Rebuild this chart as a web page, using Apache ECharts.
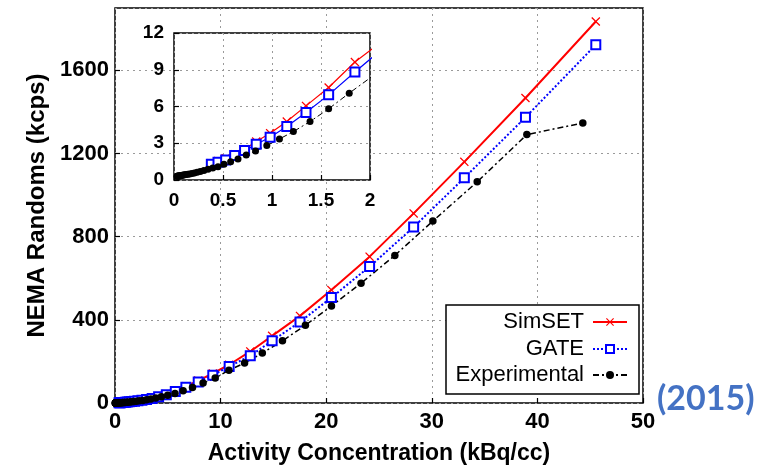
<!DOCTYPE html>
<html>
<head>
<meta charset="utf-8">
<script src="https://cdn.jsdelivr.net/npm/echarts@6/dist/echarts.min.js"></script>
<style>
  html, body { margin: 0; padding: 0; background: #fff; }
  #chart { width: 768px; height: 471px; }
</style>
</head>
<body>
<div id="chart"></div>
<script>
// activity concentration (kBq/cc) of the simulated runs
var simX = [0.381, 0.449, 0.527, 0.619, 0.720, 0.839, 0.981, 1.151, 1.347, 1.578, 1.846,
  2.17, 2.55, 2.99, 3.52, 4.13, 4.86, 5.71, 6.71, 7.88, 9.26,
  10.81, 12.81, 14.88, 17.52, 20.49, 24.11, 28.28, 33.08, 38.87, 45.53];
var simsetY = [1.36, 1.55, 1.77, 2.10, 2.51, 3.14, 3.82, 4.77, 6.05, 7.55, 9.63,
  11.6, 14.2, 18.0, 23.5, 31.5, 43, 59, 81, 108, 142,
  184, 248, 323, 419, 544, 704, 912, 1160, 1467, 1835];
var gateY = [1.28, 1.45, 1.64, 1.99, 2.40, 2.92, 3.49, 4.36, 5.51, 6.95, 8.81,
  11.0, 13.3, 16.9, 22.1, 29.5, 40, 55, 76, 101, 134,
  176, 227, 299, 390, 507, 656, 846, 1083, 1374, 1723];

// measured
var expX = [0.031, 0.035, 0.040, 0.045, 0.051, 0.058, 0.065, 0.074, 0.085, 0.096,
  0.109, 0.124, 0.141, 0.161, 0.183, 0.208, 0.236, 0.268, 0.305, 0.347,
  0.395, 0.449, 0.510, 0.578, 0.653, 0.737, 0.832, 0.947, 1.076, 1.218,
  1.388, 1.578, 1.788, 2.03, 2.31, 2.63, 2.99, 3.40, 3.86, 4.39,
  4.99, 5.68, 6.45, 7.34, 8.34, 9.49, 10.79, 12.27, 13.95, 15.86,
  18.03, 20.50, 23.30, 26.50, 30.10, 34.30, 39.00, 44.30];
var expY = [0.31, 0.31, 0.32, 0.33, 0.33, 0.34, 0.35, 0.37, 0.38, 0.40,
  0.42, 0.44, 0.47, 0.50, 0.54, 0.58, 0.64, 0.70, 0.78, 0.87,
  0.97, 1.09, 1.28, 1.50, 1.72, 2.05, 2.37, 2.81, 3.35, 3.95,
  4.77, 5.81, 7.09, 8.5, 10.3, 12.6, 15.5, 19.2, 23.8, 29.5,
  36.8, 46, 59, 75, 96, 120, 158, 192, 240, 299,
  374, 467, 576, 710, 875, 1064, 1291, 1347];

var seriesNames = ['SimSET', 'GATE', 'Experimental'];
var mainTicksX = { min: 0, max: 50, interval: 10 };
var mainTicksY = { min: 0, max: 1900, interval: 400 };
var insetTicksX = { min: 0, max: 2, interval: 0.5 };
var insetTicksY = { min: 0, max: 12, interval: 3 };

var FONT = '"Liberation Sans", Arial, sans-serif';
var CROSS = 'path://M0,1L1,0L5,4L9,0L10,1L6,5L10,9L9,10L5,6L1,10L0,9L4,5Z';

function pairs(xs, ys) {
  return xs.map(function (x, i) { return [x, ys[i]]; });
}

function plain(v) {
  return String(v);
}

function valueAxis(ticks, idx, extra) {
  return Object.assign({
    type: 'value',
    gridIndex: idx,
    min: ticks.min,
    max: ticks.max,
    interval: ticks.interval,
    axisLine: { show: false },
    axisTick: { show: true, inside: true, length: 5, lineStyle: { color: '#000', width: 1.2 } },
    splitLine: { show: true, lineStyle: { color: '#9a9a9a', width: 1, type: [2, 4] } }
  }, extra);
}

function label(size, margin, showMax) {
  return { color: '#000', fontFamily: FONT, fontWeight: 'bold', fontSize: size,
    margin: margin, showMaxLabel: showMax, formatter: plain };
}

function styles(inset) {
  var w = inset ? 1.2 : 2;
  return [
    { symbol: CROSS, symbolSize: 9,
      lineStyle: { color: '#ff0000', width: w },
      itemStyle: { color: '#ff0000' } },
    { symbol: 'emptyRect', symbolSize: 9,
      lineStyle: { color: '#0000ff', width: w, type: inset ? 'solid' : [2, 2] },
      itemStyle: { color: '#0000ff', borderWidth: 1.5 } },
    { symbol: 'circle', symbolSize: inset ? 7 : 7.5,
      lineStyle: { color: '#000', width: inset ? 1 : 1.5, type: [6, 3, 2, 3] },
      itemStyle: { color: '#000' } }
  ];
}

var datasets = [pairs(simX, simsetY), pairs(simX, gateY), pairs(expX, expY)];

var series = [];
[false, true].forEach(function (inset) {
  var st = styles(inset);
  datasets.forEach(function (d, i) {
    series.push(Object.assign({
      type: 'line',
      name: seriesNames[i],
      xAxisIndex: inset ? 1 : 0,
      yAxisIndex: inset ? 1 : 0,
      data: d,
      showAllSymbol: true,
      clip: true,
      z: inset ? 5 : 2,
      animation: false
    }, st[i]));
  });
});

// gnuplot style key: text right aligned, sample on the right
var legendRows = [323, 350, 376];
var legends = seriesNames.map(function (n, i) {
  return {
    data: [n],
    orient: 'vertical',
    align: 'right',
    right: 140,
    top: legendRows[i] - 12,
    padding: 0,
    itemWidth: 34,
    itemHeight: 10,
    selectedMode: false,
    textStyle: { fontSize: 22, fontFamily: FONT, color: '#000', padding: [0, 4, 0, 0] }
  };
});

var chart = echarts.init(document.getElementById('chart'), null, { renderer: 'canvas' });

chart.setOption({
  backgroundColor: '#fff',
  animation: false,
  grid: [
    { left: 115, right: 125, top: 8, bottom: 68, show: true,
      borderColor: '#000', borderWidth: 1.5, backgroundColor: 'transparent' },
    { left: 174, right: 398, top: 33, bottom: 291, show: true, z: 3,
      borderColor: '#000', borderWidth: 1.5, backgroundColor: '#fff' }
  ],
  xAxis: [
    valueAxis(mainTicksX, 0, {
      name: 'Activity Concentration (kBq/cc)',
      nameLocation: 'middle',
      nameGap: 39,
      nameTextStyle: { fontSize: 23, fontWeight: 'bold', fontFamily: FONT, color: '#000' },
      axisLabel: label(22, 8, true)
    }),
    valueAxis(insetTicksX, 1, { z: 4, axisLabel: label(19, 11, true) })
  ],
  yAxis: [
    valueAxis(mainTicksY, 0, {
      name: 'NEMA Randoms (kcps)',
      nameLocation: 'middle',
      nameGap: 56,
      nameTextStyle: { fontSize: 24, fontWeight: 'bold', fontFamily: FONT, color: '#000' },
      axisLabel: label(22, 6, false)
    }),
    valueAxis(insetTicksY, 1, { z: 4, axisLabel: label(19, 10, true) })
  ],
  legend: legends,
  graphic: [
    { type: 'rect', z: 3, shape: { x: 446, y: 305, width: 193, height: 89 },
      style: { fill: '#fff', stroke: '#000', lineWidth: 1.5 } },
    { type: 'text', left: 657, top: 382,
      style: { text: '(2015)', fill: '#4472c4', font: 'bold 34px Lato, "Open Sans", sans-serif' } }
  ],
  series: series
});
</script>
</body>
</html>
